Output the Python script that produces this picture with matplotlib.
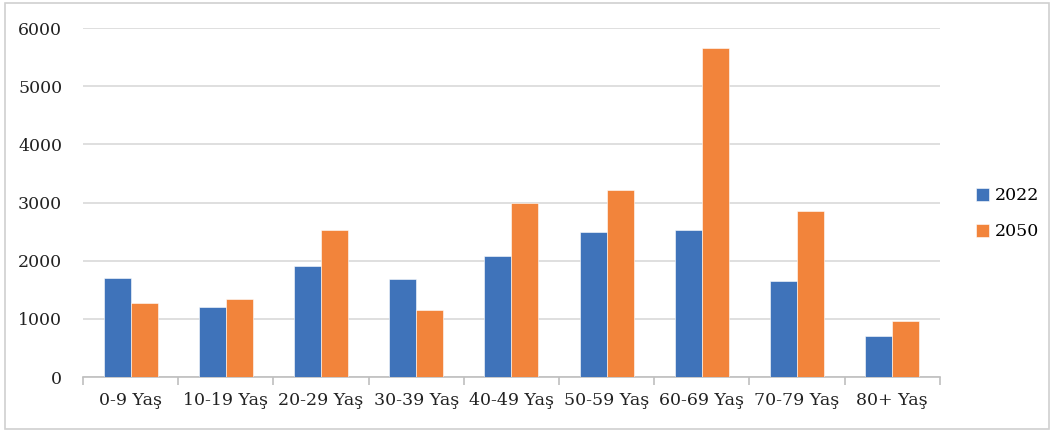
import numpy as np
import matplotlib
matplotlib.use('Agg')
from matplotlib import pyplot as plt
from matplotlib.patches import Rectangle

# age groups and values
categories = ['0-9 Yaş', '10-19 Yaş', '20-29 Yaş', '30-39 Yaş', '40-49 Yaş',
              '50-59 Yaş', '60-69 Yaş', '70-79 Yaş', '80+ Yaş']
values_2022 = [1700, 1205, 1917, 1682, 2077, 2490, 2525, 1659, 700]
values_2050 = [1274, 1343, 2525, 1160, 3000, 3213, 5657, 2857, 964]
series_names = ['2022', '2050']

COLOR_BLUE = '#3F73BA'
COLOR_ORANGE = '#F2843B'
GRID_GRAY = '#D9D9D9'
TEXT_COLOR = '#222222'

plt.rcParams['font.family'] = ['DejaVu Serif']
plt.rcParams['font.size'] = 12.5


def main():
    fig = plt.figure(figsize=(10.56, 4.32), dpi=100)
    ax = fig.add_axes([0.0786, 0.1273, 0.8114, 0.8077])

    x = np.arange(len(categories))
    w = 0.284
    ax.bar(x - w / 2, values_2022, w, color=COLOR_BLUE, label=series_names[0],
           edgecolor='white', linewidth=0.4, zorder=3)
    ax.bar(x + w / 2, values_2050, w, color=COLOR_ORANGE, label=series_names[1],
           edgecolor='white', linewidth=0.4, zorder=3)

    ax.set_xlim(-0.5, len(categories) - 0.5)
    ax.set_ylim(0, 6000)
    ax.set_yticks(np.arange(0, 6001, 1000))
    ax.yaxis.grid(True, color=GRID_GRAY, linewidth=1.2, zorder=0)
    ax.set_axisbelow(True)

    ax.set_xticks(x)
    ax.set_xticklabels(categories)
    ax.set_xticks(np.arange(-0.5, len(categories), 1.0), minor=True)
    ax.tick_params(axis='x', which='major', length=0, pad=11, labelcolor=TEXT_COLOR)
    ax.tick_params(axis='x', which='minor', length=6, width=1.2, color='#BFBFBF')
    ax.tick_params(axis='y', length=0, pad=15, labelcolor=TEXT_COLOR)

    for side in ['top', 'right', 'left']:
        ax.spines[side].set_visible(False)
    ax.spines['bottom'].set_color('#BFBFBF')
    ax.spines['bottom'].set_linewidth(1.2)

    fig.legend(loc='center left', bbox_to_anchor=(0.909, 0.505), frameon=False,
               handlelength=0.75, handleheight=0.75, handletextpad=0.35,
               labelspacing=1.1, fontsize=12.5)

    # light frame around the whole chart
    fig.patches.append(Rectangle((0.005, 0.007), 0.988, 0.985,
                                 transform=fig.transFigure, fill=False,
                                 edgecolor='#D0D0D0', linewidth=1.2))

    fig.savefig('out.png', dpi=100)


if __name__ == '__main__':
    main()
